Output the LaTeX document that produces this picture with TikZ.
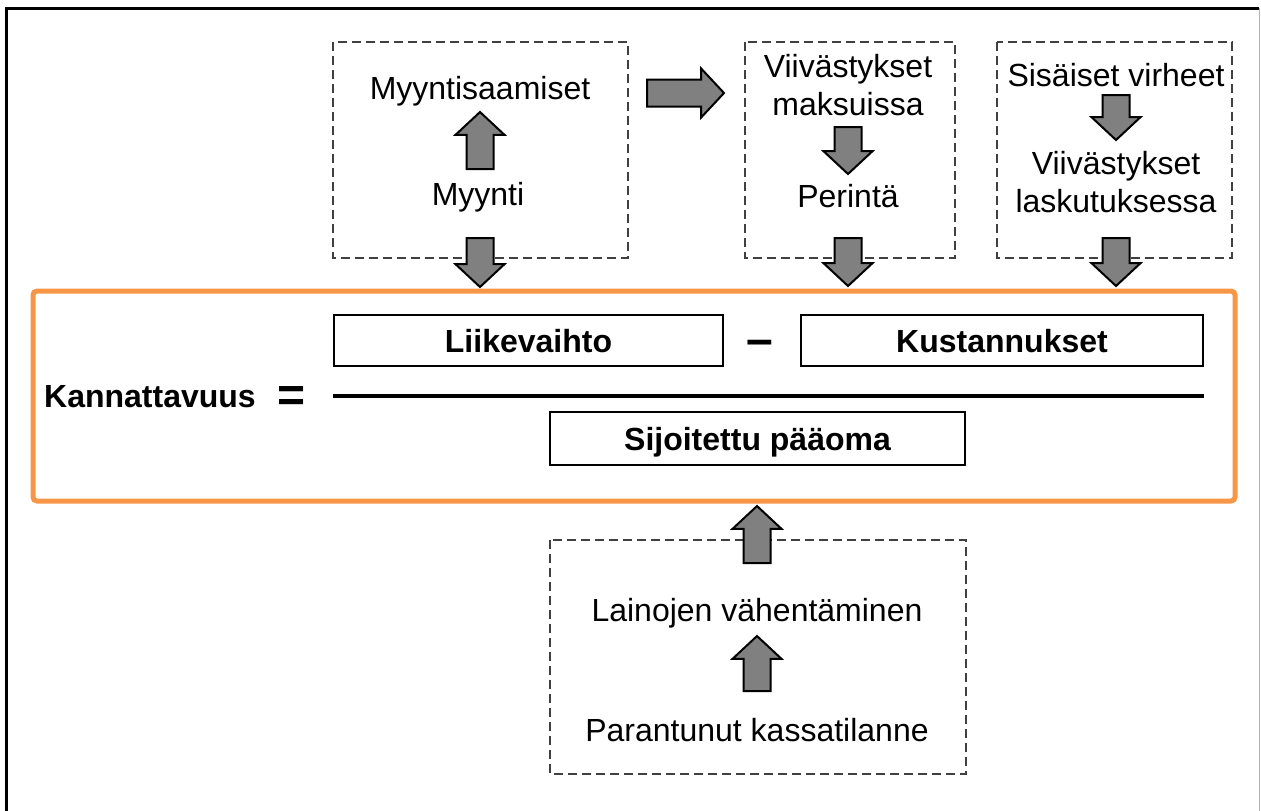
\documentclass[tikz,border=0pt]{standalone}
\usepackage{fontspec}
\setmainfont{Liberation Sans}
\usetikzlibrary{shapes.arrows,positioning}
\definecolor{frameorange}{RGB}{247,150,70}
\definecolor{arrowgray}{RGB}{128,128,128}
\definecolor{dashgray}{RGB}{64,64,64}
\tikzset{
  every node/.style={font=\fontsize{16}{19}\selectfont},
  txt/.style={inner sep=0pt,text height=11.5pt,text depth=0pt},
  txtml/.style={inner sep=0pt,align=center},
  termbox/.style={draw=black,line width=0.75pt,inner sep=0pt,text height=11.5pt,text depth=0pt,
    font=\fontsize{16}{19}\selectfont\bfseries},
  dashbox/.style={draw=dashgray,line width=0.8pt,dash pattern=on 4.5pt off 2.5pt},
  blockarr/.style={single arrow,draw=black,fill=arrowgray,line width=1pt,inner sep=6.25pt,
    single arrow head extend=5.5pt,single arrow tip angle=94,minimum height=#1,anchor=tail},
  uparr/.style={blockarr=#1,shape border rotate=90},
  downarr/.style={blockarr=#1,shape border rotate=270},
  rightarr/.style={blockarr=#1,shape border rotate=0},
  fracline/.style={line width=2pt},
  orangebox/.style={draw=frameorange,line width=2.5pt,rounded corners=2pt}
}
\begin{document}
\begin{tikzpicture}[x=0.5pt,y=-0.5pt]
\useasboundingbox (0,0) rectangle (1261,810);
% outer frame
\draw[line width=1.5pt] (6,812) -- (6,8) -- (1259,8);
\draw[gray!60,line width=0.5pt] (1259,8) -- (1259,812);
% dashed groups
\draw[dashbox] (333,42) rectangle (628,258);
\draw[dashbox] (745,42) rectangle (955,258);
\draw[dashbox] (997,42) rectangle (1232,258);
\draw[dashbox] (550,540) rectangle (966,774);
% texts in the groups
\node[txt] (myysaa) at (480,88) {Myyntisaamiset};
\node[txt] (myy) at (478,194) {Myynti};
\node[txtml] (viimak) at (848,85) {Viivästykset\\maksuissa};
\node[txt] (perinta) at (848,196) {Perintä};
\node[txt] (sisvir) at (1116,75) {Sisäiset virheet};
\node[txtml] (viilas) at (1116,182) {Viivästykset\\laskutuksessa};
\node[txt] (lainat) at (757,610) {Lainojen vähentäminen};
\node[txt] (kassa) at (757,730) {Parantunut kassatilanne};
% block arrows, placed by their tails
\node[uparr=28.5pt] (a1) at (480,170) {};
\node[downarr=24.5pt] (a2) at (480,237) {};
\node[rightarr=38.5pt] (a3) at (646,93) {};
\node[downarr=23.5pt] (a4) at (848,126) {};
\node[downarr=24pt] (a5) at (848,237) {};
\node[downarr=22.5pt] (a6) at (1116,94) {};
\node[downarr=24pt] (a7) at (1116,237) {};
\node[uparr=28.5pt] (a8) at (757,564) {};
\node[uparr=27.5pt] (a9) at (757,692) {};
% formula
\draw[orangebox] (33,291) rectangle (1235,501);
\node[txt,font=\fontsize{16}{19}\selectfont\bfseries] (kan) at (150,396) {Kannattavuus};
\node[font=\fontsize{24}{24}\selectfont\bfseries,inner sep=0pt] (eq) at (292,399) {=};
\node[termbox,minimum width=194.5pt,minimum height=25.5pt] (lv) at (528.5,340.5) {Liikevaihto};
\node[font=\fontsize{24}{24}\selectfont\bfseries,inner sep=0pt] (minus) at (760,348) {–};
\node[termbox,minimum width=201pt,minimum height=25.5pt] (ku) at (1002,340.5) {Kustannukset};
\node[termbox,minimum width=207.5pt,minimum height=26.5pt] (sp) at (757.5,438.5) {Sijoitettu pääoma};
\draw[fracline] (lv.west |- kan) -- (ku.east |- kan);
\end{tikzpicture}
\end{document}
